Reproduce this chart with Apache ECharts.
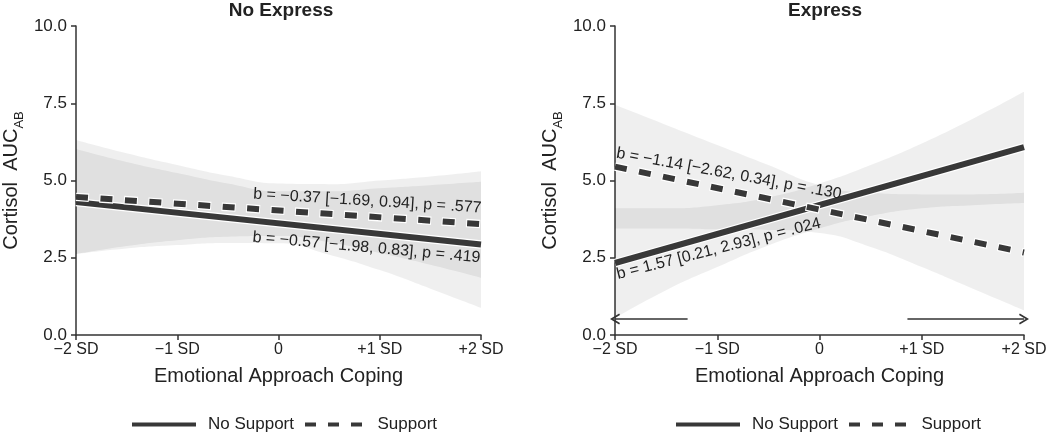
<!DOCTYPE html>
<html>
<head>
<meta charset="utf-8">
<script src="https://cdn.jsdelivr.net/npm/echarts@6/dist/echarts.min.js"></script>
<style>
  html, body { margin: 0; padding: 0; background: #fff; }
  #main { width: 1050px; height: 433px; }
</style>
</head>
<body>
<div id="main"></div>
<script>
// tick labels of the x axis (-2 .. +2 SD)
var xTicks = ['\u22122 SD', '\u22121 SD', '0', '+1 SD', '+2 SD'];
var panels = ['No Express', 'Express'];
var groups = ['No Support', 'Support'];

// simple slopes, values at -2 SD and +2 SD
var lineX = [-2, 2];
var noExpNoSupport = [4.30, 2.93];
var noExpSupport = [4.47, 3.59];
var expNoSupport = [2.33, 6.08];
var expSupport = [5.45, 2.67];

// confidence bands read at every half SD
var bandX = [-2, -1.5, -1, -0.5, 0, 0.5, 1, 1.5, 2];
var noExpNoSupUpper = [6.02, 5.60, 5.24, 4.90, 4.65, 4.65, 4.75, 4.85, 4.96];
var noExpNoSupLower = [2.62, 2.80, 2.91, 2.98, 2.97, 2.60, 2.10, 1.50, 0.88];
var noExpSupUpper = [6.31, 5.88, 5.50, 5.15, 4.90, 4.88, 5.00, 5.13, 5.30];
var noExpSupLower = [2.62, 2.88, 3.07, 3.18, 3.20, 3.00, 2.65, 2.27, 1.85];
var expNoSupUpper = [4.10, 4.10, 4.20, 4.45, 4.90, 5.50, 6.20, 7.00, 7.87];
var expNoSupLower = [0.55, 1.45, 2.20, 2.90, 3.45, 3.85, 4.10, 4.20, 4.27];
var expSupUpper = [7.45, 6.80, 6.15, 5.50, 4.85, 4.60, 4.55, 4.55, 4.60];
var expSupLower = [3.45, 3.45, 3.42, 3.40, 3.30, 2.85, 2.20, 1.50, 0.80];

// regions of significance in the Express panel
var regionLeft = [-1.29, -2];
var regionRight = [0.86, 2];
var regionY = 0.52;

// slope labels: text, panel, anchor [x, y]
var slopeText = [
  'b = \u22120.37 [\u22121.69, 0.94], p = .577',
  'b = \u22120.57 [\u22121.98, 0.83], p = .419',
  'b = \u22121.14 [\u22122.62, 0.34], p = .130',
  'b = 1.57 [0.21, 2.93], p = .024'
];
var slopePanel = [0, 0, 1, 1];
var slopeAnchor = [[2, 3.85], [2, 2.75], [-2, 5.63], [-2, 2.2]];

var FONT = '"Liberation Sans", Arial, sans-serif';
var INK = '#222';
var LINE = '#383838';
var BAND = 'rgba(0,0,0,0.063)';

var chart = echarts.init(document.getElementById('main'), null, { renderer: 'canvas' });

// y first in each row so the stack goes on y, not on x
function bandSeries(idx, key, lower, upper) {
  return [
    {
      type: 'line', name: key + 'lo', xAxisIndex: idx, yAxisIndex: idx,
      stack: key, smooth: true, symbol: 'none', silent: true,
      encode: { x: 1, y: 0 },
      lineStyle: { opacity: 0 },
      data: bandX.map(function (x, i) { return [lower[i], x]; })
    },
    {
      type: 'line', name: key + 'hi', xAxisIndex: idx, yAxisIndex: idx,
      stack: key, smooth: true, symbol: 'none', silent: true,
      encode: { x: 1, y: 0 },
      lineStyle: { opacity: 0 },
      areaStyle: { color: BAND, opacity: 1 },
      data: bandX.map(function (x, i) { return [upper[i] - lower[i], x]; })
    }
  ];
}

function lineSeries(idx, name, ys, dashed) {
  var pts = lineX.map(function (x, i) { return [x, ys[i]]; });
  return [
    {
      type: 'line', name: name + ' halo', xAxisIndex: idx, yAxisIndex: idx,
      symbol: 'none', silent: true,
      lineStyle: dashed ? { color: '#fff', width: 8.5, type: [14, 10.5], dashOffset: 1, cap: 'butt' }
                        : { color: '#fff', width: 8.5, cap: 'butt' },
      data: pts
    },
    {
      type: 'line', name: name, xAxisIndex: idx, yAxisIndex: idx,
      symbol: 'none', showSymbol: false, color: LINE,
      lineStyle: dashed ? { color: LINE, width: 6, type: [12, 12.5], cap: 'butt' }
                        : { color: LINE, width: 6, cap: 'butt' },
      data: pts
    }
  ];
}

var arrowHead = 'path://M5,0 L10,9 L8.6,9.8 L5,3.3 L1.4,9.8 L0,9 Z';

function axisX(idx) {
  return {
    type: 'value', gridIndex: idx, min: -2, max: 2, interval: 1,
    name: 'Emotional Approach Coping', nameLocation: 'middle', nameGap: 31,
    nameTextStyle: { fontFamily: FONT, fontSize: 20, color: INK },
    axisLine: { show: true, onZero: false, lineStyle: { color: '#333', width: 1.5 } },
    axisTick: { show: true, length: 5, lineStyle: { color: '#333', width: 1.5 } },
    splitLine: { show: false },
    axisLabel: {
      fontFamily: FONT, fontSize: 16, color: INK, margin: 7,
      formatter: function (v) { return xTicks[Math.round(v) + 2]; }
    }
  };
}

function axisY(idx) {
  return {
    type: 'value', gridIndex: idx, min: 0, max: 10, interval: 2.5,
    name: '{a|Cortisol  AUC}{b|AB}', nameLocation: 'middle', nameGap: 53, nameRotate: 90,
    nameTextStyle: {
      fontFamily: FONT, color: INK,
      rich: {
        a: { fontFamily: FONT, fontSize: 20, color: INK, lineHeight: 24, verticalAlign: 'middle' },
        b: { fontFamily: FONT, fontSize: 13, color: INK, lineHeight: 24, verticalAlign: 'bottom', padding: [0, 0, -3, 0] }
      }
    },
    axisLine: { show: true, onZero: false, lineStyle: { color: '#333', width: 1.5 } },
    axisTick: { show: true, length: 5, lineStyle: { color: '#333', width: 1.5 } },
    splitLine: { show: false },
    axisLabel: {
      fontFamily: FONT, fontSize: 17, color: INK, margin: 9,
      formatter: function (v) { return v.toFixed(1); }
    }
  };
}

var solidIcon = 'path://M0,0H64V4H0Z';
var dashIcon = 'path://M0,0H11V4H0Z M23,0H34V4H23Z M46,0H57V4H46Z';

function legendAt(left) {
  return {
    data: [{ name: groups[0], icon: solidIcon }, { name: groups[1], icon: dashIcon }],
    left: left, top: 411, orient: 'horizontal',
    itemWidth: 64, itemHeight: 4, itemGap: 11,
    itemStyle: { color: LINE },
    textStyle: { fontFamily: FONT, fontSize: 17, color: INK, padding: [0, 0, 0, 7] }
  };
}

var series = [].concat(
  bandSeries(0, 'b0', noExpNoSupLower, noExpNoSupUpper),
  bandSeries(0, 'b1', noExpSupLower, noExpSupUpper),
  bandSeries(1, 'b2', expNoSupLower, expNoSupUpper),
  bandSeries(1, 'b3', expSupLower, expSupUpper),
  lineSeries(0, groups[0], noExpNoSupport, false),
  lineSeries(0, groups[1], noExpSupport, true),
  lineSeries(1, groups[0], expNoSupport, false),
  lineSeries(1, groups[1], expSupport, true)
);

// arrows for the regions of significance
series.push({
  type: 'line', name: 'regions', xAxisIndex: 1, yAxisIndex: 1, data: [], symbol: 'none',
  markLine: {
    silent: true, animation: false,
    symbol: ['none', arrowHead], symbolSize: [11, 10],
    label: { show: false },
    lineStyle: { color: '#333', width: 1.5, type: 'solid' },
    data: [
      [{ coord: [regionLeft[0], regionY] }, { coord: [regionLeft[1], regionY] }],
      [{ coord: [regionRight[0], regionY] }, { coord: [regionRight[1], regionY] }]
    ]
  }
});

var option = {
  backgroundColor: '#fff',
  animation: false,
  title: [
    { text: panels[0], left: 276, top: -4, textAlign: 'center',
      textStyle: { fontFamily: FONT, fontSize: 19, fontWeight: 'bold', color: INK } },
    { text: panels[1], left: 820, top: -4, textAlign: 'center',
      textStyle: { fontFamily: FONT, fontSize: 19, fontWeight: 'bold', color: INK } }
  ],
  grid: [
    { left: 71, top: 26, width: 410, height: 309 },
    { left: 615, top: 26, width: 409, height: 309 }
  ],
  legend: [legendAt(127), legendAt(671)],
  xAxis: [axisX(0), axisX(1)],
  yAxis: [axisY(0), axisY(1)],
  series: series
};

chart.setOption(option);

// slope labels, rotated to follow their lines
var slopeAlign = [['right', 'bottom', -3.5], ['right', 'top', -5.2], ['left', 'bottom', -10.4], ['left', 'top', 14.3]];
var graphics = slopeText.map(function (t, i) {
  var p = chart.convertToPixel({ gridIndex: slopePanel[i] }, slopeAnchor[i]);
  return {
    type: 'text', x: p[0], y: p[1], rotation: slopeAlign[i][2] * Math.PI / 180, z: 100,
    style: {
      text: t, fill: INK, font: '16px ' + FONT,
      textAlign: slopeAlign[i][0], textVerticalAlign: slopeAlign[i][1]
    }
  };
});
chart.setOption({ graphic: graphics });
</script>
</body>
</html>
